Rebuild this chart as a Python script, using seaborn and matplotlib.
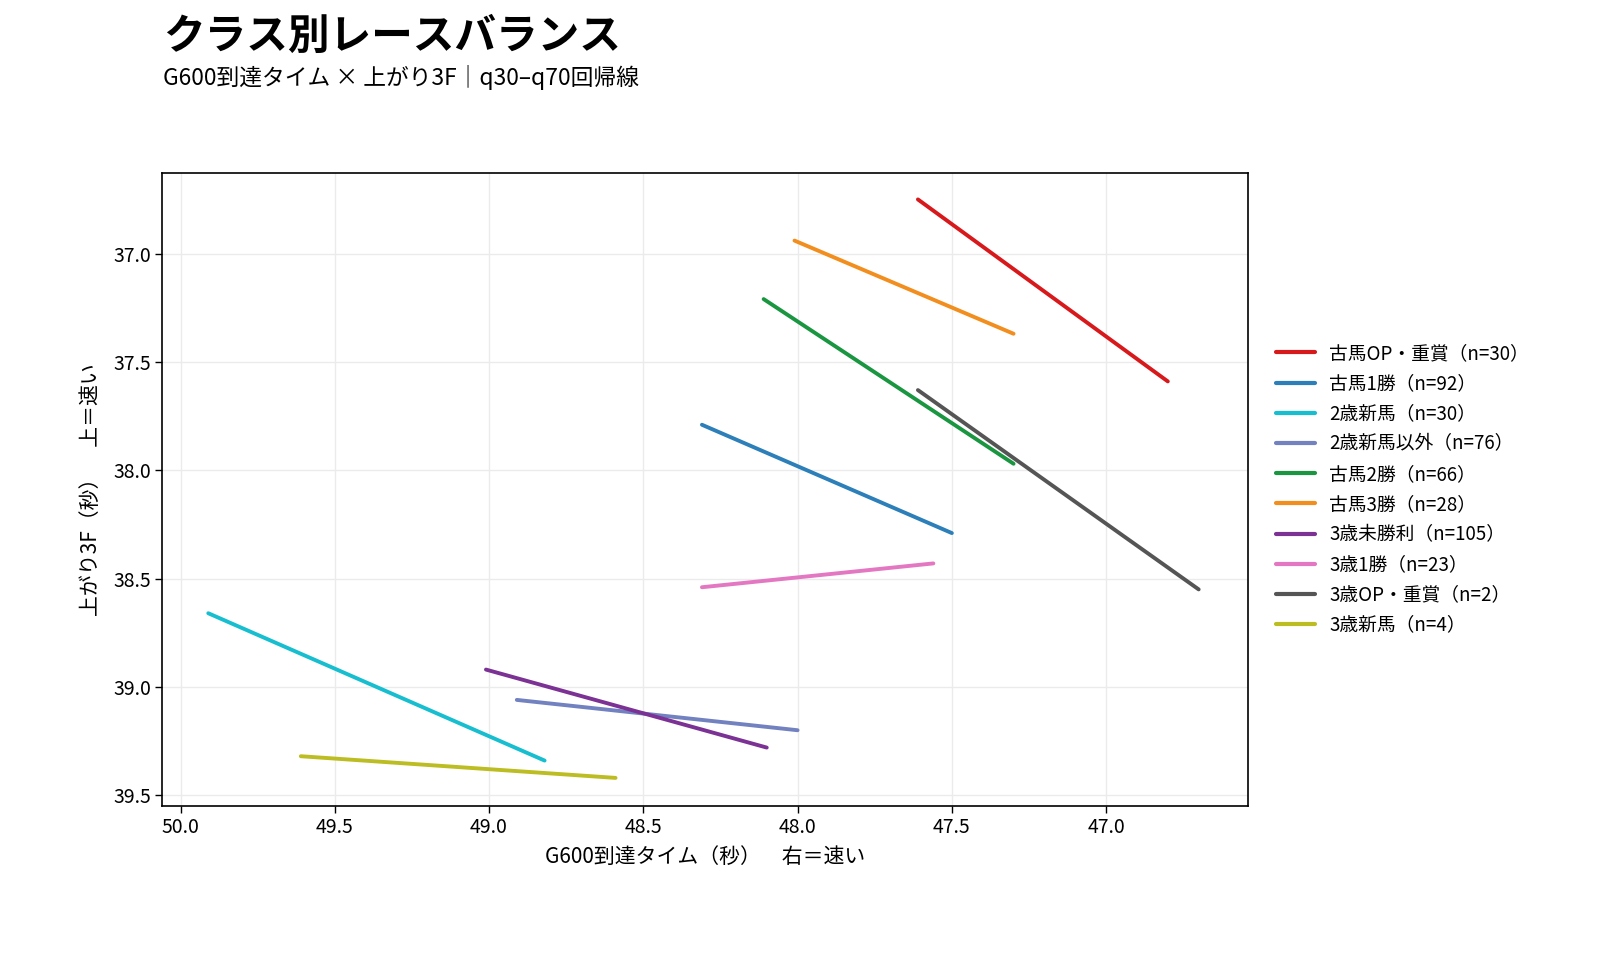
import numpy as np
import pandas as pd
import matplotlib
matplotlib.use("Agg")
import matplotlib.pyplot as plt
import seaborn as sns

classes = ["古馬OP・重賞", "古馬1勝", "2歳新馬", "2歳新馬以外", "古馬2勝",
           "古馬3勝", "3歳未勝利", "3歳1勝", "3歳OP・重賞", "3歳新馬"]
counts = [30, 92, 30, 76, 66, 28, 105, 23, 2, 4]
x_start = [47.61, 48.31, 49.91, 48.91, 48.11, 48.01, 49.01, 48.31, 47.61, 49.61]
x_end   = [46.80, 47.50, 48.82, 48.00, 47.30, 47.30, 48.10, 47.56, 46.70, 48.59]
y_start = [36.75, 37.79, 38.66, 39.06, 37.21, 36.94, 38.92, 38.54, 37.63, 39.32]
y_end   = [37.59, 38.29, 39.34, 39.20, 37.97, 37.37, 39.28, 38.43, 38.55, 39.42]
colors = ["#d7191c", "#2c7fb8", "#17becf", "#7281bf", "#1a9641",
          "#f28e1e", "#7b3294", "#e377c2", "#555555", "#bcbd22"]

labels = [f"{c}（n={n}）" for c, n in zip(classes, counts)]
rows = []
for lab, xs, xe, ys, ye in zip(labels, x_start, x_end, y_start, y_end):
    rows.append({"cls": lab, "x": xs, "y": ys})
    rows.append({"cls": lab, "x": xe, "y": ye})
df = pd.DataFrame(rows)

sns.set_theme(style="whitegrid")
plt.rcParams['font.family'] = ['Noto Sans CJK JP', 'DejaVu Sans']
plt.rcParams['text.color'] = 'black'
plt.rcParams['axes.labelcolor'] = 'black'
plt.rcParams['xtick.color'] = 'black'
plt.rcParams['ytick.color'] = 'black'

fig = plt.figure(figsize=(16.2, 9.6), dpi=100)
ax = fig.add_axes([0.1, 0.1608, 0.6704, 0.659])

sns.lineplot(data=df, x="x", y="y", hue="cls", hue_order=labels,
             palette=dict(zip(labels, colors)), linewidth=2.8,
             estimator=None, sort=False, ax=ax)

ax.set_xlim(50.06, 46.54)
ax.set_ylim(39.548, 36.628)
ax.set_xticks([50.0, 49.5, 49.0, 48.5, 48.0, 47.5, 47.0])
ax.set_yticks([37.0, 37.5, 38.0, 38.5, 39.0, 39.5])
ax.xaxis.set_major_formatter(matplotlib.ticker.FormatStrFormatter('%.1f'))
ax.yaxis.set_major_formatter(matplotlib.ticker.FormatStrFormatter('%.1f'))
ax.tick_params(axis='both', labelsize=14, length=5, width=1, color='black',
               left=True, bottom=True, pad=3)
for s in ax.spines.values():
    s.set_color('black')
    s.set_linewidth(1.2)
ax.grid(color='#ebebeb', linewidth=1)

ax.set_xlabel("G600到達タイム（秒）　右＝速い", fontsize=15, labelpad=6)
ax.set_ylabel("上がり3F（秒）　上＝速い", fontsize=15, labelpad=8)

leg = ax.legend(loc='center left', bbox_to_anchor=(1.01, 0.5), frameon=False,
                fontsize=13.5, handlelength=2.1, handletextpad=0.75,
                labelspacing=0.49)
for line in leg.get_lines():
    line.set_linewidth(3)

fig.text(0.1007, 0.9616, "クラス別レースバランス", fontsize=30, fontweight='bold',
         ha='left', va='center')
fig.text(0.1007, 0.919, "G600到達タイム × 上がり3F｜q30–q70回帰線", fontsize=16.4,
         ha='left', va='center')

fig.savefig("out.png", dpi=100)
